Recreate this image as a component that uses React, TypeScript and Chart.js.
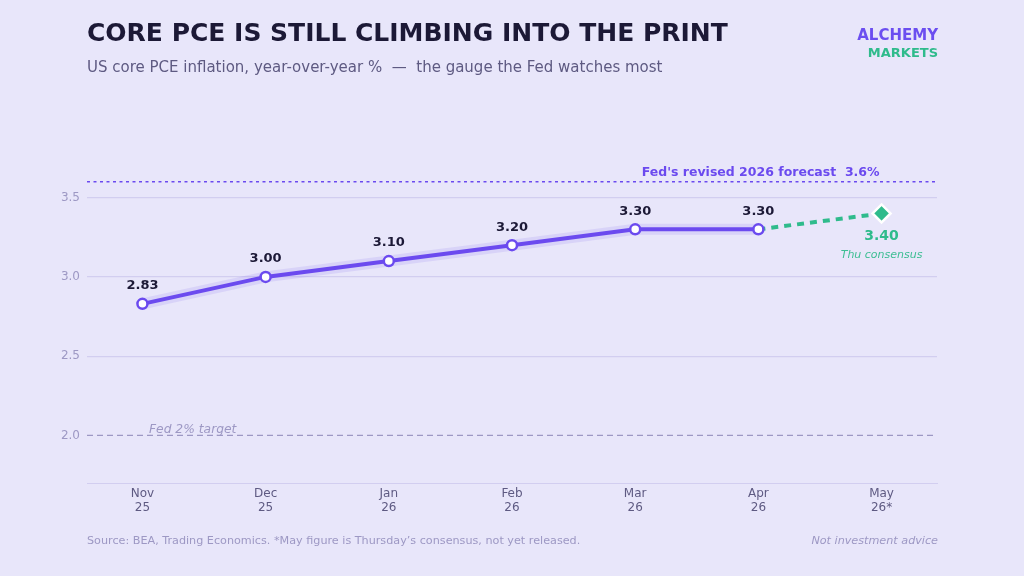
import React, { useEffect, useRef } from 'react';
import { Chart, registerables } from 'chart.js';

Chart.register(...registerables);

// Monthly readings, US core PCE y/y %
const months = ['Nov', 'Dec', 'Jan', 'Feb', 'Mar', 'Apr', 'May'];
const years = ['25', '25', '26', '26', '26', '26', '26*'];
const corePce = [2.83, 3.0, 3.1, 3.2, 3.3, 3.3];
// Last released print followed by Thursday's consensus
const consensusIdx = [5, 6];
const consensusVals = [3.3, 3.4];
const yTicks = [2.0, 2.5, 3.0, 3.5];
const fedTarget = 2.0;
const fedForecast = 3.6;

const FONT = '"DejaVu Sans", sans-serif';
const BG = '#E8E6FA';
const PURPLE = '#6B4AEF';
const GREEN = '#2FBB8C';
const INK = '#1C1936';
const MUTED = '#5E5A82';
const FAINT = '#9D98C4';
const GRID = '#D2CEF0';

const decorations = {
  id: 'decorations',
  beforeDraw(chart: any) {
    const { ctx, width, height } = chart;
    ctx.save();
    ctx.fillStyle = BG;
    ctx.fillRect(0, 0, width, height);
    ctx.restore();
  },
  beforeDatasetsDraw(chart: any) {
    const { ctx, chartArea } = chart;
    const y = chart.scales.y;
    ctx.save();
    // Fed 2% target
    const ty = y.getPixelForValue(fedTarget);
    ctx.strokeStyle = FAINT;
    ctx.lineWidth = 1.2;
    ctx.setLineDash([6, 4]);
    ctx.beginPath();
    ctx.moveTo(chartArea.left, ty);
    ctx.lineTo(chartArea.right, ty);
    ctx.stroke();
    ctx.setLineDash([]);
    ctx.fillStyle = FAINT;
    ctx.font = `italic 12.3px ${FONT}`;
    ctx.textAlign = 'left';
    ctx.textBaseline = 'alphabetic';
    ctx.fillText('Fed 2% target', chartArea.left + 62, ty - 2);

    // Fed revised forecast
    const fy = y.getPixelForValue(fedForecast);
    ctx.strokeStyle = PURPLE;
    ctx.lineWidth = 1.5;
    ctx.setLineDash([3, 3.5]);
    ctx.beginPath();
    ctx.moveTo(chartArea.left, fy);
    ctx.lineTo(chartArea.right, fy);
    ctx.stroke();
    ctx.setLineDash([]);
    ctx.fillStyle = PURPLE;
    ctx.font = `bold 12.5px ${FONT}`;
    ctx.textAlign = 'right';
    ctx.fillText("Fed's revised 2026 forecast  3.6%", chart.scales.x.getPixelForValue(6) - 2, fy - 6);
    ctx.restore();
  },
  afterDatasetsDraw(chart: any) {
    const { ctx } = chart;
    const x = chart.scales.x;
    const y = chart.scales.y;
    ctx.save();
    ctx.textAlign = 'center';
    ctx.textBaseline = 'middle';
    ctx.fillStyle = INK;
    ctx.font = `bold 13px ${FONT}`;
    corePce.forEach((v, i) => {
      ctx.fillText(v.toFixed(2), x.getPixelForValue(i), y.getPixelForValue(v) - 18);
    });
    const last = consensusVals[consensusVals.length - 1];
    const lx = x.getPixelForValue(consensusIdx[consensusIdx.length - 1]);
    const ly = y.getPixelForValue(last);
    ctx.fillStyle = GREEN;
    ctx.font = `bold 14px ${FONT}`;
    ctx.fillText(last.toFixed(2), lx, ly + 23);
    ctx.font = `italic 11px ${FONT}`;
    ctx.fillStyle = '#3DBE93';
    ctx.fillText('Thu consensus', lx, ly + 42);

    // Headline, subtitle, brand and footer
    ctx.textAlign = 'left';
    ctx.textBaseline = 'alphabetic';
    ctx.fillStyle = INK;
    ctx.font = `bold 25px ${FONT}`;
    ctx.fillText('CORE PCE IS STILL CLIMBING INTO THE PRINT', 87, 41);
    ctx.fillStyle = MUTED;
    ctx.font = `15px ${FONT}`;
    ctx.fillText('US core PCE inflation, year-over-year %  \u2014  the gauge the Fed watches most', 87, 72);

    ctx.textAlign = 'right';
    ctx.fillStyle = '#6B4EF0';
    ctx.font = `bold 15px ${FONT}`;
    ctx.fillText('ALCHEMY', 938, 40);
    ctx.fillStyle = GREEN;
    ctx.font = `bold 13px ${FONT}`;
    ctx.fillText('MARKETS', 938, 57);

    ctx.font = `11.2px ${FONT}`;
    ctx.fillStyle = FAINT;
    ctx.textAlign = 'left';
    ctx.fillText("Source: BEA, Trading Economics. *May figure is Thursday\u2019s consensus, not yet released.", 87, 544);
    ctx.textAlign = 'right';
    ctx.font = `italic 11.2px ${FONT}`;
    ctx.fillText('Not investment advice', 938, 544);
    ctx.restore();
  },
};

export default function App() {
  const ref = useRef<HTMLCanvasElement | null>(null);

  useEffect(() => {
    if (!ref.current) return;
    const actual = corePce.map((v, i) => ({ x: i, y: v }));
    const consensus = consensusIdx.map((i, k) => ({ x: i, y: consensusVals[k] }));
    const chart = new Chart(ref.current, {
      type: 'line',
      data: {
        datasets: [
          {
            label: 'Core PCE',
            data: actual,
            borderColor: PURPLE,
            borderWidth: 4,
            pointRadius: 5,
            pointHoverRadius: 5,
            pointBackgroundColor: '#FFFFFF',
            pointBorderColor: PURPLE,
            pointBorderWidth: 2.5,
            order: 1,
          },
          {
            label: 'glow',
            data: actual,
            borderColor: 'rgba(107,74,239,0.12)',
            borderWidth: 11,
            pointRadius: 0,
            order: 3,
          },
          {
            label: 'Consensus',
            data: consensus,
            borderColor: GREEN,
            borderWidth: 4,
            borderDash: [7, 6],
            pointStyle: 'rectRot',
            pointRadius: [0, 9],
            pointHoverRadius: [0, 9],
            pointBackgroundColor: GREEN,
            pointBorderColor: '#FFFFFF',
            pointBorderWidth: 2.5,
            order: 2,
          },
        ],
      },
      options: {
        animation: false,
        responsive: false,
        events: [],
        layout: { padding: { top: 158, right: 87, bottom: 0, left: 0 } },
        plugins: { legend: { display: false }, tooltip: { enabled: false } },
        scales: {
          x: {
            type: 'linear',
            min: -0.45,
            max: 6.45,
            afterBuildTicks: (s: any) => {
              s.ticks = months.map((_, i) => ({ value: i }));
            },
            afterFit: (s: any) => {
              s.height = 93;
            },
            grid: { display: false, drawTicks: false },
            border: { display: true, color: GRID, width: 1 },
            ticks: {
              padding: 4,
              color: MUTED,
              font: { family: FONT, size: 12, lineHeight: 1.15 },
              maxRotation: 0,
              callback: (v: any) => [months[v], years[v]],
            },
          },
          y: {
            min: 1.7,
            max: 3.75,
            afterBuildTicks: (s: any) => {
              s.ticks = yTicks.map((v) => ({ value: v }));
            },
            afterFit: (s: any) => {
              s.width = 87;
            },
            grid: {
              drawTicks: false,
              color: (c: any) => (c.tick && c.tick.value === fedTarget ? 'rgba(0,0,0,0)' : GRID),
              lineWidth: 1.2,
            },
            border: { display: false },
            ticks: {
              padding: 7,
              color: FAINT,
              font: { family: FONT, size: 12 },
              callback: (v: any) => Number(v).toFixed(1),
            },
          },
        },
      },
      plugins: [decorations],
    });
    return () => chart.destroy();
  }, []);

  return (
    <div style={{ position: 'fixed', left: 0, top: 0, width: 1024, height: 576, background: BG }}>
      <canvas ref={ref} width={1024} height={576} style={{ width: 1024, height: 576, display: 'block' }} />
    </div>
  );
}
